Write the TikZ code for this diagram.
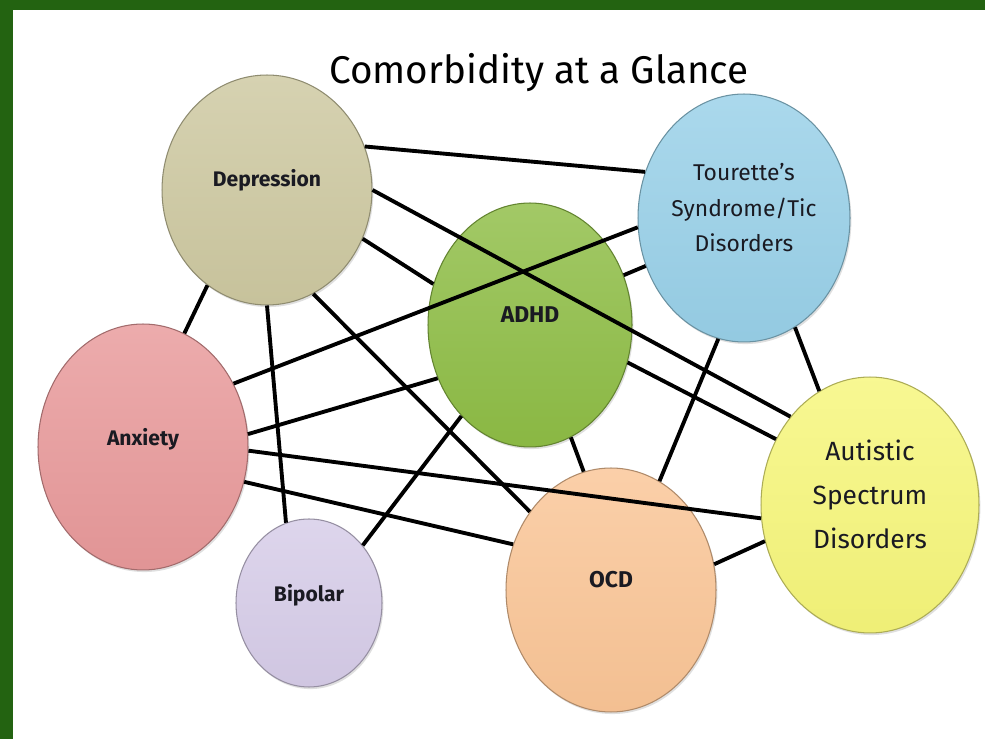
\documentclass[tikz,border=0pt]{standalone}
\usepackage{fontspec}
\setmainfont{Fira Sans}
\usetikzlibrary{shapes.geometric, shadows}

\definecolor{frame}{HTML}{236311}
\definecolor{labeltext}{HTML}{1A1A22}
\definecolor{depcol}{HTML}{CDC8A0}
\definecolor{toucol}{HTML}{98D0E8}
\definecolor{adhdcol}{HTML}{8EBD45}
\definecolor{anxcol}{HTML}{E8999A}
\definecolor{bipcol}{HTML}{D6CCE8}
\definecolor{ocdcol}{HTML}{FAC596}
\definecolor{autcol}{HTML}{F6F67A}

\begin{document}
\begin{tikzpicture}[x=0.02cm, y=-0.02cm]

\tikzset{disorder/.style = {shape=ellipse, draw=#1!70!black, line width=0.6pt,
  top color=#1!82!white, bottom color=#1!97!black, inner sep=0pt, align=center,
  text=labeltext, text depth=12pt, font=\bfseries\fontsize{12}{20}\selectfont,
  drop shadow={opacity=0.25, shadow xshift=0.8pt, shadow yshift=-1.2pt}}}
\tikzset{link/.style = {line width=2.2pt, black}}

%frame
\useasboundingbox (0,0) rectangle (985,739);
\fill[white] (0,0) rectangle (985,739);
\fill[frame] (0,0) rectangle (985,10);
\fill[frame] (0,0) rectangle (13,739);

\node[anchor=base, font=\fontsize{22}{26}\selectfont] (title) at (539,84) {Comorbidity at a Glance};

%disorders
\node[disorder=depcol, minimum width=4.2cm, minimum height=4.6cm, text depth=14pt] (dep) at (267,190) {Depression};
\node[disorder=toucol, minimum width=4.24cm, minimum height=4.96cm,
  font=\mdseries\fontsize{13}{20}\selectfont] (tou) at (744,218) {Tourette's\\Syndrome/Tic\\Disorders};
\node[disorder=adhdcol, minimum width=4.08cm, minimum height=4.88cm,
  font=\bfseries\fontsize{13}{20}\selectfont] (adhd) at (530,325) {ADHD};
\node[disorder=anxcol, minimum width=4.2cm, minimum height=4.92cm] (anx) at (143,447) {Anxiety};
\node[disorder=bipcol, minimum width=2.92cm, minimum height=3.36cm] (bip) at (309,603) {Bipolar};
\node[disorder=ocdcol, minimum width=4.2cm, minimum height=4.88cm,
  font=\bfseries\fontsize{13}{20}\selectfont] (ocd) at (611,590) {OCD};
\node[disorder=autcol, minimum width=4.36cm, minimum height=5.12cm,
  font=\mdseries\fontsize{15}{25}\selectfont] (aut) at (870,505) {Autistic\\Spectrum\\Disorders};

%links
\draw[link] (dep.24) -- (tou.155);
\draw[link] (dep.0) -- (aut.132);
\draw[link] (dep.-27) -- (adhd.157);
\draw[link] (dep.-122) -- (anx.70);
\draw[link] (dep.-90) -- (bip.106);
\draw[link] (dep.-66) -- (ocd.136);
\draw[link] (anx.35) -- (tou.-175);
\draw[link] (anx.7) -- (adhd.-150);
\draw[link] (anx.-2) -- (aut.-173);
\draw[link] (anx.-19) -- (ocd.155);
\draw[link] (bip.47) -- (adhd.-127);
\draw[link] (adhd.28) -- (tou.-154);
\draw[link] (adhd.-21) -- (aut.145);
\draw[link] (adhd.-70) -- (ocd.103);
\draw[link] (tou.-102) -- (ocd.66);
\draw[link] (tou.-65) -- (aut.114);
\draw[link] (ocd.14) -- (aut.-161);

\end{tikzpicture}
\end{document}
